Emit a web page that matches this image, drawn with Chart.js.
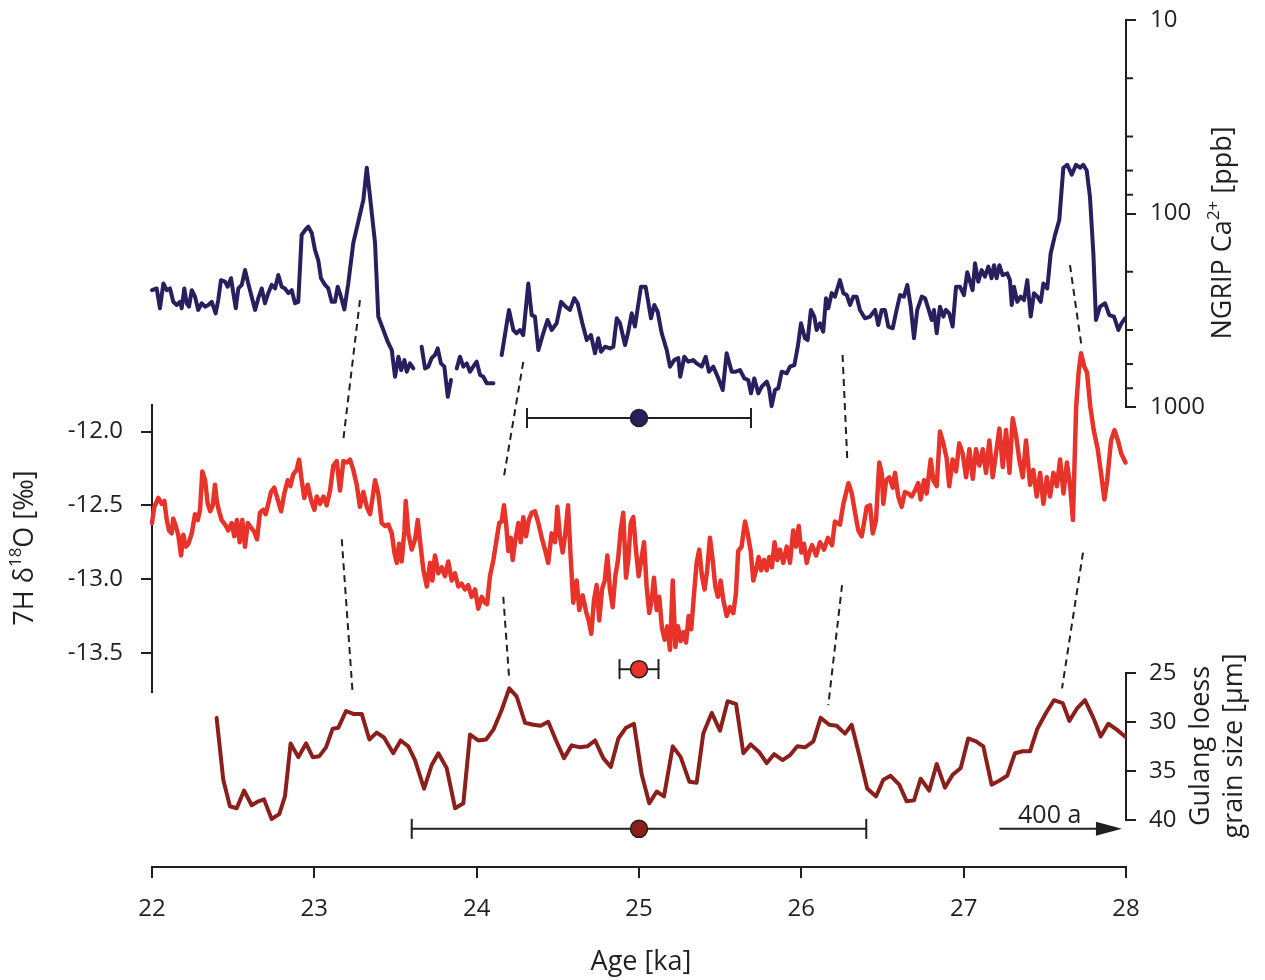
<!DOCTYPE html>
<html lang="en">
<head>
<meta charset="UTF-8">
<title>NGRIP Ca, 7H d18O and Gulang loess grain size</title>
<script src="https://cdn.jsdelivr.net/npm/chart.js"></script>
<style>
  html, body { margin: 0; padding: 0; background: #fff; }
  #wrap { width: 1265px; height: 980px; }
</style>
</head>
<body>
<div id="wrap"><canvas id="chart" width="1265" height="980"></canvas></div>
<script>
// ---- data ----
const xTicks = [22, 23, 24, 25, 26, 27, 28];
const caTicks = [10, 100, 1000];
const caMinor = [20, 40, 60, 80, 200, 400, 600, 800];
const d18oTicks = [-12.0, -12.5, -13.0, -13.5];
const loessTicks = [25, 30, 35, 40];

// NGRIP Ca2+ [ppb] (null = gap in record)
const caAge = [
  22.000, 22.029, 22.049, 22.070, 22.091, 22.111, 22.131, 22.152, 22.172, 22.183,
  22.199, 22.214, 22.228, 22.245, 22.265, 22.285, 22.306, 22.327, 22.347, 22.368,
  22.392, 22.408, 22.425, 22.450, 22.466, 22.487, 22.501, 22.516, 22.532, 22.553,
  22.573, 22.593, 22.614, 22.635, 22.655, 22.676, 22.696, 22.716, 22.737, 22.758,
  22.778, 22.799, 22.819, 22.840, 22.861, 22.881, 22.901, 22.922, 22.943, 22.963,
  22.984, 23.004, 23.024, 23.041, 23.066, 23.086, 23.107, 23.127, 23.144, 23.164,
  23.185, 23.209, 23.240, 23.271, 23.302, 23.323, 23.343, 23.374, 23.394, 23.425,
  23.452, 23.477, 23.497, 23.518, 23.535, 23.555, 23.569, 23.589, 23.610, 23.635,
  23.661, 23.682, 23.702, 23.723, 23.743, 23.760, 23.780, 23.801, 23.822, 23.842,
  23.860, 23.877, 23.897, 23.918, 23.939, 23.959, 23.979, 24.000, 24.021, 24.041,
  24.062, 24.103, 24.130, 24.154, 24.199, 24.226, 24.246, 24.267, 24.287, 24.318,
  24.339, 24.359, 24.380, 24.410, 24.437, 24.462, 24.493, 24.520, 24.548, 24.575,
  24.601, 24.622, 24.651, 24.678, 24.704, 24.729, 24.749, 24.766, 24.791, 24.821,
  24.842, 24.863, 24.883, 24.914, 24.934, 24.955, 24.975, 25.012, 25.041, 25.074,
  25.094, 25.115, 25.140, 25.171, 25.191, 25.217, 25.242, 25.254, 25.279, 25.304,
  25.334, 25.355, 25.386, 25.411, 25.431, 25.458, 25.489, 25.516, 25.540, 25.571,
  25.596, 25.622, 25.649, 25.673, 25.690, 25.710, 25.735, 25.756, 25.787, 25.801,
  25.817, 25.838, 25.858, 25.879, 25.910, 25.930, 25.957, 25.978, 25.998, 26.022,
  26.039, 26.059, 26.080, 26.094, 26.115, 26.135, 26.152, 26.166, 26.187, 26.207,
  26.222, 26.238, 26.259, 26.280, 26.300, 26.320, 26.341, 26.361, 26.392, 26.423,
  26.454, 26.474, 26.495, 26.515, 26.536, 26.563, 26.587, 26.608, 26.632, 26.653,
  26.674, 26.694, 26.714, 26.742, 26.762, 26.782, 26.803, 26.817, 26.834, 26.854,
  26.875, 26.891, 26.911, 26.932, 26.953, 26.977, 27.002, 27.022, 27.039, 27.055,
  27.070, 27.090, 27.111, 27.131, 27.152, 27.172, 27.187, 27.203, 27.220, 27.240,
  27.269, 27.285, 27.296, 27.310, 27.330, 27.351, 27.372, 27.392, 27.413, 27.433,
  27.454, 27.475, 27.491, 27.515, 27.536, 27.563, 27.589, 27.614, 27.638, 27.666,
  27.692, 27.717, 27.737, 27.758, 27.778, 27.799, 27.815, 27.840, 27.871, 27.897,
  27.926, 27.953, 27.973, 27.994
];
const caPpb = [
  249, 244, 309, 230, 249, 244, 286, 297, 286, 309,
  244, 291, 303, 249, 269, 315, 291, 303, 297, 286,
  328, 280, 221, 225, 239, 216, 258, 309, 244, 234,
  196, 230, 269, 315, 274, 244, 291, 258, 234, 244,
  208, 239, 244, 258, 249, 291, 286, 129, 122, 117,
  126, 154, 174, 216, 234, 244, 286, 286, 239, 269,
  313, 230, 142, 110, 85, 58, 82, 142, 341, 400,
  460, 508, 698, 550, 644, 572, 657, 595, 632, null,
  488, 632, 619, 558, 539, 498, 595, 619, 886, 725,
  null, 632, 550, 619, 595, 657, 619, 583, 683, 698,
  754, 754, null, 539, 315, 400, 416, 400, 425, 230,
  335, 341, 508, 416, 355, 400, 369, 286, 303, 315,
  274, 291, 369, 451, 425, 528, 441, 518, 488, 498,
  488, 348, 369, 478, 408, 328, 384, 239, 239, 348,
  297, 322, 416, 508, 619, 572, 558, 698, 550, 583,
  572, 595, 619, 550, 657, 619, 711, 817, 528, 657,
  657, 644, 711, 725, 850, 711, 850, 785, 739, 800,
  990, 817, 800, 657, 670, 619, 607, 488, 369, 441,
  451, 315, 341, 400, 369, 408, 274, 309, 258, 269,
  244, 221, 258, 264, 297, 269, 269, 315, 348, 341,
  315, 377, 315, 315, 384, 392, 315, 264, 269, 234,
  303, 441, 315, 269, 274, 309, 355, 315, 416, 303,
  341, 315, 328, 384, 239, 239, 264, 201, 225, 249,
  181, 225, 196, 212, 188, 216, 185, 216, 185, 208,
  204, 221, 297, 239, 286, 269, 280, 221, 341, 258,
  269, 286, 230, 244, 161, 129, 108, 58, 56, 63,
  56, 58, 56, 60, 82, 161, 355, 303, 291, 335,
  341, 400, 369, 348
];

// 7H d18O [permil]
const d18oAge = [
  22.000, 22.014, 22.039, 22.060, 22.076, 22.091, 22.105, 22.121, 22.131, 22.146,
  22.162, 22.179, 22.193, 22.208, 22.224, 22.245, 22.265, 22.282, 22.296, 22.310,
  22.327, 22.343, 22.359, 22.374, 22.388, 22.399, 22.413, 22.429, 22.450, 22.470,
  22.491, 22.507, 22.523, 22.540, 22.556, 22.573, 22.590, 22.610, 22.630, 22.647,
  22.665, 22.686, 22.700, 22.716, 22.733, 22.753, 22.774, 22.795, 22.815, 22.836,
  22.852, 22.870, 22.891, 22.906, 22.922, 22.938, 22.959, 22.979, 23.000, 23.015,
  23.035, 23.056, 23.076, 23.097, 23.117, 23.138, 23.158, 23.179, 23.200, 23.220,
  23.240, 23.261, 23.281, 23.302, 23.323, 23.343, 23.360, 23.374, 23.394, 23.415,
  23.436, 23.456, 23.477, 23.493, 23.508, 23.522, 23.538, 23.555, 23.563, 23.579,
  23.600, 23.621, 23.637, 23.653, 23.672, 23.693, 23.713, 23.727, 23.743, 23.764,
  23.785, 23.805, 23.825, 23.846, 23.866, 23.887, 23.907, 23.928, 23.948, 23.969,
  23.990, 24.010, 24.031, 24.051, 24.064, 24.082, 24.103, 24.123, 24.139, 24.154,
  24.168, 24.181, 24.195, 24.210, 24.222, 24.236, 24.257, 24.271, 24.287, 24.304,
  24.321, 24.339, 24.359, 24.380, 24.401, 24.421, 24.441, 24.462, 24.483, 24.497,
  24.513, 24.530, 24.546, 24.563, 24.579, 24.595, 24.616, 24.632, 24.653, 24.674,
  24.690, 24.706, 24.723, 24.739, 24.755, 24.772, 24.789, 24.805, 24.821, 24.838,
  24.854, 24.871, 24.887, 24.903, 24.920, 24.934, 24.949, 24.965, 24.981, 24.998,
  25.014, 25.031, 25.047, 25.063, 25.080, 25.092, 25.109, 25.125, 25.141, 25.158,
  25.174, 25.191, 25.208, 25.224, 25.240, 25.257, 25.273, 25.290, 25.306, 25.322,
  25.339, 25.355, 25.371, 25.388, 25.404, 25.420, 25.437, 25.454, 25.470, 25.486,
  25.503, 25.519, 25.540, 25.560, 25.581, 25.597, 25.611, 25.632, 25.653, 25.669,
  25.688, 25.704, 25.721, 25.737, 25.753, 25.770, 25.786, 25.802, 25.819, 25.835,
  25.852, 25.868, 25.889, 25.910, 25.930, 25.950, 25.967, 25.984, 26.000, 26.016,
  26.033, 26.049, 26.066, 26.091, 26.115, 26.140, 26.164, 26.189, 26.207, 26.238,
  26.259, 26.290, 26.311, 26.331, 26.351, 26.372, 26.403, 26.423, 26.440, 26.460,
  26.480, 26.495, 26.505, 26.522, 26.542, 26.563, 26.577, 26.597, 26.618, 26.638,
  26.659, 26.680, 26.700, 26.720, 26.735, 26.756, 26.772, 26.797, 26.813, 26.834,
  26.854, 26.875, 26.895, 26.911, 26.932, 26.953, 26.973, 26.994, 27.015, 27.035,
  27.056, 27.076, 27.097, 27.118, 27.138, 27.158, 27.179, 27.199, 27.220, 27.241,
  27.261, 27.282, 27.302, 27.323, 27.343, 27.364, 27.384, 27.409, 27.429, 27.450,
  27.471, 27.491, 27.512, 27.532, 27.553, 27.574, 27.594, 27.615, 27.636, 27.656,
  27.673, 27.693, 27.708, 27.723, 27.743, 27.760, 27.780, 27.801, 27.826, 27.846,
  27.867, 27.884, 27.908, 27.929, 27.950, 27.971, 27.997
];
const d18oVal = [
  -12.62, -12.51, -12.45, -12.49, -12.47, -12.60, -12.67, -12.69, -12.59, -12.64,
  -12.70, -12.84, -12.70, -12.78, -12.76, -12.69, -12.56, -12.60, -12.53, -12.27,
  -12.33, -12.49, -12.54, -12.50, -12.36, -12.47, -12.54, -12.60, -12.63, -12.67,
  -12.62, -12.71, -12.60, -12.75, -12.60, -12.78, -12.62, -12.65, -12.68, -12.73,
  -12.55, -12.53, -12.56, -12.49, -12.41, -12.38, -12.46, -12.54, -12.42, -12.33,
  -12.37, -12.29, -12.26, -12.19, -12.33, -12.45, -12.36, -12.46, -12.53, -12.44,
  -12.49, -12.44, -12.50, -12.40, -12.23, -12.20, -12.40, -12.20, -12.21, -12.19,
  -12.26, -12.36, -12.51, -12.41, -12.51, -12.56, -12.44, -12.33, -12.42, -12.62,
  -12.64, -12.63, -12.69, -12.82, -12.89, -12.76, -12.88, -12.67, -12.47, -12.69,
  -12.80, -12.73, -12.60, -12.76, -12.94, -13.05, -12.89, -13.01, -12.84, -12.96,
  -12.92, -12.98, -12.88, -13.01, -12.96, -13.05, -13.03, -13.07, -13.04, -13.12,
  -13.07, -13.20, -13.12, -13.16, -13.17, -12.98, -12.87, -12.73, -12.62, -12.61,
  -12.50, -12.62, -12.81, -12.72, -12.87, -12.75, -12.62, -12.75, -12.58, -12.71,
  -12.60, -12.55, -12.54, -12.62, -12.72, -12.80, -12.89, -12.69, -12.75, -12.51,
  -12.71, -12.82, -12.69, -12.50, -12.85, -13.16, -13.01, -13.21, -13.11, -13.22,
  -13.28, -13.37, -13.14, -13.04, -13.28, -13.07, -13.01, -12.84, -13.07, -13.19,
  -12.98, -12.87, -12.67, -12.55, -12.99, -12.87, -12.62, -12.58, -12.80, -12.98,
  -12.87, -12.75, -13.05, -13.23, -13.13, -12.99, -13.21, -13.12, -13.33, -13.41,
  -13.32, -13.48, -13.01, -13.46, -13.32, -13.42, -13.36, -13.43, -13.25, -13.34,
  -13.10, -12.89, -12.80, -12.98, -13.07, -12.94, -12.72, -12.87, -13.05, -13.12,
  -13.01, -13.14, -13.25, -13.19, -13.23, -13.10, -12.81, -12.78, -12.61, -12.69,
  -12.81, -13.01, -12.94, -12.85, -12.94, -12.87, -12.94, -12.85, -12.92, -12.75,
  -12.87, -12.80, -12.89, -12.78, -12.89, -12.67, -12.78, -12.64, -12.82, -12.76,
  -12.89, -12.82, -12.77, -12.84, -12.75, -12.80, -12.72, -12.77, -12.61, -12.63,
  -12.49, -12.35, -12.42, -12.55, -12.67, -12.71, -12.51, -12.50, -12.69, -12.60,
  -12.21, -12.28, -12.49, -12.33, -12.31, -12.38, -12.28, -12.44, -12.51, -12.41,
  -12.42, -12.44, -12.40, -12.35, -12.46, -12.33, -12.42, -12.19, -12.33, -12.37,
  -12.00, -12.08, -12.18, -12.37, -12.19, -12.27, -12.08, -12.15, -12.31, -12.12,
  -12.32, -12.12, -12.23, -12.12, -12.28, -12.06, -12.31, -12.15, -11.98, -12.24,
  -11.99, -12.28, -11.91, -12.03, -12.19, -12.31, -12.06, -12.36, -12.26, -12.44,
  -12.28, -12.49, -12.31, -12.44, -12.28, -12.37, -12.19, -12.42, -12.21, -12.37,
  -12.60, -11.83, -11.60, -11.47, -11.56, -11.60, -11.83, -11.99, -12.12, -12.28,
  -12.46, -12.33, -12.06, -11.99, -12.06, -12.15, -12.21
];

// Gulang loess grain size [um]
const loessAge = [
  22.398, 22.439, 22.480, 22.522, 22.567, 22.614, 22.655, 22.690, 22.737, 22.784,
  22.819, 22.854, 22.901, 22.949, 22.990, 23.031, 23.072, 23.113, 23.148, 23.195,
  23.240, 23.292, 23.339, 23.384, 23.429, 23.486, 23.532, 23.579, 23.620, 23.676,
  23.723, 23.764, 23.815, 23.867, 23.918, 23.959, 24.010, 24.058, 24.103, 24.154,
  24.201, 24.246, 24.298, 24.349, 24.394, 24.441, 24.489, 24.538, 24.585, 24.637,
  24.682, 24.729, 24.780, 24.826, 24.873, 24.920, 24.969, 25.017, 25.063, 25.109,
  25.154, 25.208, 25.257, 25.310, 25.355, 25.396, 25.448, 25.499, 25.546, 25.598,
  25.643, 25.688, 25.741, 25.787, 25.832, 25.885, 25.930, 25.975, 26.023, 26.074,
  26.119, 26.172, 26.218, 26.269, 26.310, 26.357, 26.406, 26.460, 26.505, 26.550,
  26.603, 26.649, 26.694, 26.735, 26.788, 26.834, 26.885, 26.932, 26.982, 27.028,
  27.076, 27.121, 27.172, 27.219, 27.268, 27.316, 27.363, 27.409, 27.454, 27.507,
  27.556, 27.610, 27.651, 27.700, 27.747, 27.799, 27.844, 27.891, 27.943, 27.994
];
const loessSize = [
  29.6, 35.9, 38.6, 38.8, 37.0, 38.5, 38.1, 37.9, 39.9, 39.4,
  37.6, 32.2, 33.6, 32.2, 33.6, 33.5, 32.6, 30.7, 30.6, 28.9,
  29.2, 29.2, 31.8, 31.1, 31.6, 33.2, 31.9, 32.5, 33.9, 36.8,
  34.4, 33.2, 34.7, 38.8, 38.3, 31.3, 31.9, 31.8, 30.8, 28.8,
  26.6, 27.4, 30.1, 30.3, 30.4, 30.0, 31.9, 33.7, 32.4, 32.6,
  32.5, 31.9, 33.7, 34.6, 31.7, 30.6, 30.2, 35.4, 38.3, 37.1,
  37.6, 32.5, 33.6, 36.1, 36.2, 31.2, 29.1, 30.9, 27.9, 28.2,
  33.2, 32.3, 33.1, 34.2, 33.3, 33.9, 33.4, 32.5, 32.6, 32.0,
  29.6, 30.3, 30.4, 31.2, 30.3, 33.4, 36.8, 37.6, 35.9, 35.5,
  36.4, 38.1, 38.0, 35.8, 37.0, 34.3, 36.7, 35.4, 34.7, 31.7,
  32.0, 32.5, 36.4, 36.0, 35.5, 33.2, 33.0, 33.0, 30.7, 29.1,
  27.8, 28.1, 29.9, 28.6, 27.8, 29.6, 31.5, 30.2, 30.8, 31.5
];

// age uncertainty bars: centre, half width, level on own axis
const errCentre = [25, 25, 25];
const errHalf = [0.69, 0.12, 1.40];
const errLevel = [1140, -13.61, 40.9];

// dashed tie lines [age, value] upper record -> [age, value] lower record
const tiesCaD = [[23.281, 280, 23.178, -12.06], [24.287, 585, 24.164, -12.33],
                 [26.254, 539, 26.283, -12.19], [27.655, 185, 27.727, -11.43]];
const tiesDL = [[23.169, -12.73, 23.236, 27.1], [24.164, -13.12, 24.199, 25.3],
                [26.251, -13.04, 26.166, 28.3], [27.735, -12.82, 27.606, 26.6]];

// ---- styling ----
const ink = '#231f20';
const blue = '#2a1f5e';
const red = '#e8332a';
const brown = '#8b1f1b';
const family = '"Open Sans", sans-serif';
const titleFont = '27px ' + family;
const supFont = '17px ' + family;

// vertical pixel band of each y axis
const bands = { yCa: [20, 407], yD: [405, 692], yL: [672.7, 820] };

function pts(xs, ys) {
  return xs.map((a, i) => ({ x: a, y: ys[i] }));
}

const bandPlugin = {
  id: 'bands',
  afterLayout(chart) {
    Object.keys(bands).forEach(id => {
      const s = chart.scales[id];
      s.top = bands[id][0];
      s.bottom = bands[id][1];
      s.height = s.bottom - s.top;
      if (id === 'yL') {
        s.left = chart.chartArea.right;
        s.right = s.left + 139;
        s.width = 139;
      }
      s.configure();
    });
  }
};

function richText(ctx, parts, cx, cy, angle) {
  ctx.save();
  ctx.translate(cx, cy);
  ctx.rotate(angle);
  ctx.textBaseline = 'middle';
  ctx.textAlign = 'left';
  ctx.fillStyle = ink;
  let w = 0;
  parts.forEach(p => { ctx.font = p.sup ? supFont : titleFont; w += ctx.measureText(p.t).width; });
  let px = -w / 2;
  parts.forEach(p => {
    ctx.font = p.sup ? supFont : titleFont;
    ctx.fillText(p.t, px, p.sup ? -9 : 0);
    px += ctx.measureText(p.t).width;
  });
  ctx.restore();
}

const decorPlugin = {
  id: 'decor',
  beforeDatasetsDraw(chart) {
    const { ctx, scales } = chart;
    const x = scales.x;
    ctx.save();
    ctx.strokeStyle = ink;
    ctx.lineWidth = 2;
    ctx.setLineDash([7, 5]);
    const tie = (t, sa, sb) => {
      ctx.beginPath();
      ctx.moveTo(x.getPixelForValue(t[0]), sa.getPixelForValue(t[1]));
      ctx.lineTo(x.getPixelForValue(t[2]), sb.getPixelForValue(t[3]));
      ctx.stroke();
    };
    tiesCaD.forEach(t => tie(t, scales.yCa, scales.yD));
    tiesDL.forEach(t => tie(t, scales.yD, scales.yL));
    ctx.restore();
  },
  afterDraw(chart) {
    const { ctx, scales } = chart;
    const { x, yCa, yL } = scales;
    ctx.save();
    // minor log ticks
    ctx.strokeStyle = ink;
    ctx.lineWidth = 2;
    caMinor.forEach(v => {
      const py = yCa.getPixelForValue(v);
      ctx.beginPath();
      ctx.moveTo(yCa.left, py);
      ctx.lineTo(yCa.left + 7, py);
      ctx.stroke();
    });
    // 400 a arrow
    const ay = yL.getPixelForValue(errLevel[2]);
    const ax1 = x.getPixelForValue(27.22);
    const ax2 = x.getPixelForValue(27.975);
    ctx.beginPath();
    ctx.moveTo(ax1, ay);
    ctx.lineTo(ax2 - 20, ay);
    ctx.stroke();
    ctx.fillStyle = ink;
    ctx.beginPath();
    ctx.moveTo(ax2, ay);
    ctx.lineTo(ax2 - 26, ay - 7);
    ctx.lineTo(ax2 - 26, ay + 7);
    ctx.closePath();
    ctx.fill();
    ctx.font = '25px ' + family;
    ctx.textAlign = 'center';
    ctx.textBaseline = 'alphabetic';
    ctx.fillText('400 a', x.getPixelForValue(27.53), ay - 6);
    ctx.restore();

    // axis titles
    richText(ctx, [{ t: 'Age [ka]' }], 641, 962, 0);
    richText(ctx, [{ t: '7H \u03b4' }, { t: '18', sup: true }, { t: 'O [\u2030]' }], 25, 548, -Math.PI / 2);
    richText(ctx, [{ t: 'NGRIP Ca' }, { t: '2+', sup: true }, { t: ' [ppb]' }], 1223, 233, -Math.PI / 2);
    richText(ctx, [{ t: 'Gulang loess' }], 1201, 746, -Math.PI / 2);
    richText(ctx, [{ t: 'grain size [\u00b5m]' }], 1234, 746, -Math.PI / 2);
  }
};

function axisStyle(len, pad) {
  return {
    grid: { display: true, drawOnChartArea: false, drawTicks: true, tickLength: len, color: ink, lineWidth: 2 },
    border: { display: true, color: ink, width: 2 },
    ticks: { color: ink, font: { family: family, size: 24 }, padding: pad, autoSkip: false, maxRotation: 0 }
  };
}

const errIds = ['yCa', 'yD', 'yL'];
const dotColors = [blue, red, brown];
const datasets = [
  { data: pts(caAge, caPpb), yAxisID: 'yCa', borderColor: blue, borderWidth: 4, order: 3, spanGaps: false },
  { data: pts(d18oAge, d18oVal), yAxisID: 'yD', borderColor: red, borderWidth: 4.5, order: 3 },
  { data: pts(loessAge, loessSize), yAxisID: 'yL', borderColor: brown, borderWidth: 4, order: 3 }
];
errCentre.forEach((c, i) => {
  datasets.push({
    data: [{ x: c - errHalf[i], y: errLevel[i] }, { x: c + errHalf[i], y: errLevel[i] }],
    yAxisID: errIds[i], borderColor: ink, borderWidth: 2, order: 2,
    pointStyle: 'line', pointRotation: 90, pointRadius: 10, pointBorderColor: ink, pointBorderWidth: 2
  });
  datasets.push({
    data: [{ x: c, y: errLevel[i] }], yAxisID: errIds[i], showLine: false, order: 1,
    pointRadius: 8.5, pointBackgroundColor: dotColors[i], pointBorderColor: ink, pointBorderWidth: 1.5
  });
});

new Chart(document.getElementById('chart'), {
  type: 'line',
  data: { datasets: datasets },
  options: {
    responsive: false,
    animation: false,
    devicePixelRatio: 1,
    events: [],
    layout: { padding: { top: 20, left: 0, right: 0, bottom: 0 } },
    plugins: { legend: { display: false }, tooltip: { enabled: false } },
    elements: { point: { radius: 0 }, line: { tension: 0, borderCapStyle: 'round', borderJoinStyle: 'round' } },
    datasets: { line: { clip: false } },
    scales: {
      x: Object.assign(axisStyle(11, 17), {
        type: 'linear', min: 22, max: 28,
        afterBuildTicks: s => { s.ticks = xTicks.map(v => ({ value: v })); },
        afterFit: s => { s.height = 113; }
      }),
      yCa: Object.assign(axisStyle(10, 14), {
        type: 'logarithmic', position: 'right', reverse: true, min: 10, max: 1000,
        afterBuildTicks: s => { s.ticks = caTicks.map(v => ({ value: v })); },
        afterFit: s => { s.width = 139; }
      }),
      yD: Object.assign(axisStyle(11, 18), {
        type: 'linear', position: 'left', min: -13.765, max: -11.82,
        afterBuildTicks: s => { s.ticks = d18oTicks.map(v => ({ value: v })); },
        afterFit: s => { s.width = 152; }
      }),
      yL: Object.assign(axisStyle(10, 13), {
        type: 'linear', position: 'right', reverse: true, min: 25, max: 40,
        afterBuildTicks: s => { s.ticks = loessTicks.map(v => ({ value: v })); },
        afterFit: s => { s.width = 0; }
      })
    }
  },
  plugins: [bandPlugin, decorPlugin]
});
// tick label formats
const ch = Chart.getChart('chart');
ch.options.scales.x.ticks.callback = v => String(v);
ch.options.scales.yCa.ticks.callback = v => String(v);
ch.options.scales.yD.ticks.callback = v => v.toFixed(1);
ch.options.scales.yL.ticks.callback = v => String(v);
ch.update();
</script>
</body>
</html>
